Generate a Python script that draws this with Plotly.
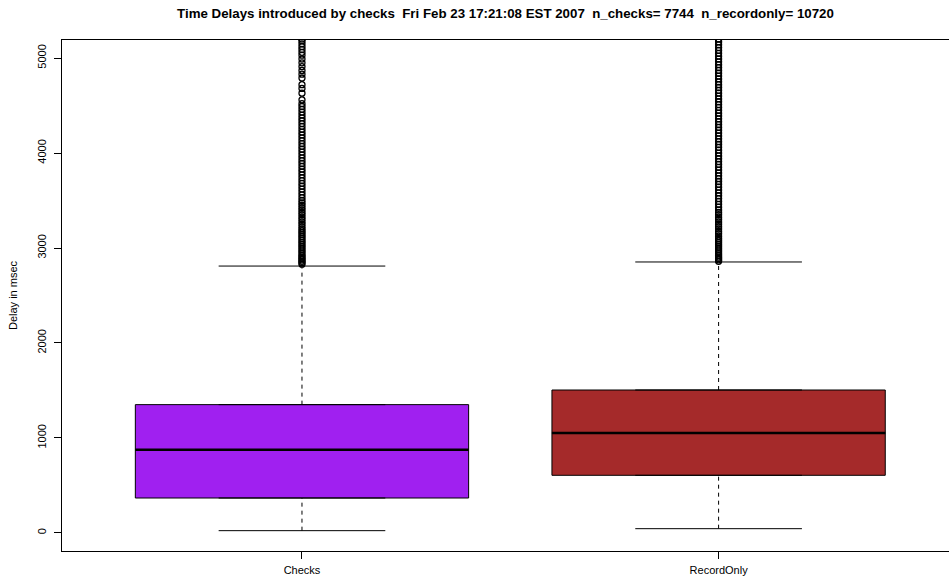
import plotly.graph_objects as go

categories = ["Checks", "RecordOnly"]
q1 = [368, 607]
median = [877, 1053]
q3 = [1351, 1505]
lower_whisker = [24, 45]
upper_whisker = [2810, 2853]
fill_colors = ["#A020F0", "#A52A2A"]

outliers_checks = [2830, 2845, 2860, 2875, 2890, 2905, 2920, 2940, 2960, 2980, 3000, 3020,
                   3040, 3060, 3080, 3100, 3120, 3140, 3160, 3180, 3200, 3225, 3250, 3275,
                   3300, 3325, 3350, 3375, 3400, 3425, 3450, 3475, 3500, 3530, 3560, 3590,
                   3620, 3650, 3680, 3710, 3740, 3770, 3800, 3830, 3860, 3890, 3920, 3950,
                   3980, 4010, 4040, 4070, 4100, 4130, 4160, 4190, 4220, 4250, 4280, 4310,
                   4340, 4370, 4400, 4430, 4460, 4490, 4520, 4560, 4630, 4680, 4720, 4790,
                   4830, 4870, 4910, 4950, 4990, 5030, 5060, 5090, 5120, 5150, 5180, 5200]
outliers_record = [2860, 2875, 2890, 2905, 2920, 2940, 2960, 2980, 3000, 3020, 3040, 3060,
                   3080, 3100, 3125, 3150, 3175, 3200, 3225, 3250, 3275, 3300, 3325, 3350,
                   3375, 3400, 3430, 3460, 3490, 3520, 3550, 3580, 3610, 3640, 3670, 3700,
                   3730, 3760, 3790, 3820, 3850, 3880, 3910, 3940, 3970, 4000, 4030, 4060,
                   4090, 4120, 4150, 4180, 4210, 4240, 4270, 4300, 4330, 4360, 4390, 4420,
                   4450, 4480, 4510, 4540, 4570, 4600, 4630, 4660, 4690, 4720, 4750, 4780,
                   4810, 4840, 4870, 4900, 4930, 4960, 4990, 5020, 5050, 5080, 5110, 5140,
                   5170, 5200]
outliers = [outliers_checks, outliers_record]

title_text = ("Time Delays introduced by checks  Fri Feb 23 17:21:08 EST 2007  "
              "n_checks= 7744  n_recordonly= 10720")
y_ticks = [0, 1000, 2000, 3000, 4000, 5000]

BOX_W = 0.8
CAP_HALF = 0.2
FIG_W, FIG_H = 949, 581

fig = go.Figure()
for i, name in enumerate(categories):
    pos = i + 1
    fig.add_trace(go.Scatter(x=[pos, pos], y=[q3[i], upper_whisker[i]], mode="lines",
                             line=dict(color="black", width=1, dash="4px,4px"),
                             showlegend=False, hoverinfo="skip"))
    fig.add_trace(go.Scatter(x=[pos, pos], y=[lower_whisker[i], q1[i]], mode="lines",
                             line=dict(color="black", width=1, dash="4px,4px"),
                             showlegend=False, hoverinfo="skip"))
    for v in (lower_whisker[i], upper_whisker[i]):
        fig.add_trace(go.Scatter(x=[pos - CAP_HALF, pos + CAP_HALF], y=[v, v], mode="lines",
                                 line=dict(color="black", width=1),
                                 showlegend=False, hoverinfo="skip"))
    fig.add_trace(go.Box(x=[pos], q1=[q1[i]], median=[median[i]], q3=[q3[i]],
                         lowerfence=[q1[i]], upperfence=[q3[i]], width=BOX_W,
                         fillcolor=fill_colors[i], line=dict(color="black", width=1),
                         boxpoints=False, showlegend=False, name=name))
    fig.add_trace(go.Scatter(x=[pos - BOX_W / 2, pos + BOX_W / 2], y=[median[i], median[i]],
                             mode="lines", line=dict(color="black", width=2.5),
                             showlegend=False, hoverinfo="skip"))
    fig.add_trace(go.Scatter(x=[pos] * len(outliers[i]), y=outliers[i], mode="markers",
                             marker=dict(symbol="circle-open", size=6, color="black",
                                         line=dict(width=1.3, color="black")),
                             showlegend=False, hoverinfo="skip"))

fig.update_layout(
    width=FIG_W, height=FIG_H,
    margin=dict(l=62, r=0, t=40, b=30),
    paper_bgcolor="white", plot_bgcolor="white",
    font=dict(family="Liberation Sans, Arial, sans-serif", size=11, color="black"),
    title=dict(text="<b>" + title_text + "</b>", x=0.5, xref="paper", y=1 - 13 / FIG_H,
               yanchor="middle", xanchor="center",
               font=dict(size=13.3, family="Liberation Sans, Arial, sans-serif")),
    xaxis=dict(range=[0.424, 2.553], tickvals=[1, 2], ticktext=categories,
               showgrid=False, zeroline=False, showline=True, mirror=True,
               linecolor="black", linewidth=1, ticks="outside", ticklen=7,
               tickcolor="black", tickfont=dict(size=11), ticklabelstandoff=2),
    yaxis=dict(range=[-190, 5190], tickvals=y_ticks, ticktext=[str(t) for t in y_ticks],
               tickangle=-90, showgrid=False, zeroline=False, showline=True,
               linecolor="black", linewidth=1, ticks="outside", ticklen=7,
               tickcolor="black", tickfont=dict(size=11), ticklabelstandoff=4,
               title=dict(text="Delay in msec", font=dict(size=11), standoff=15)),
)

fig.write_html("out.html", config={"displayModeBar": False},
               post_script="document.body.style.margin='0';")
